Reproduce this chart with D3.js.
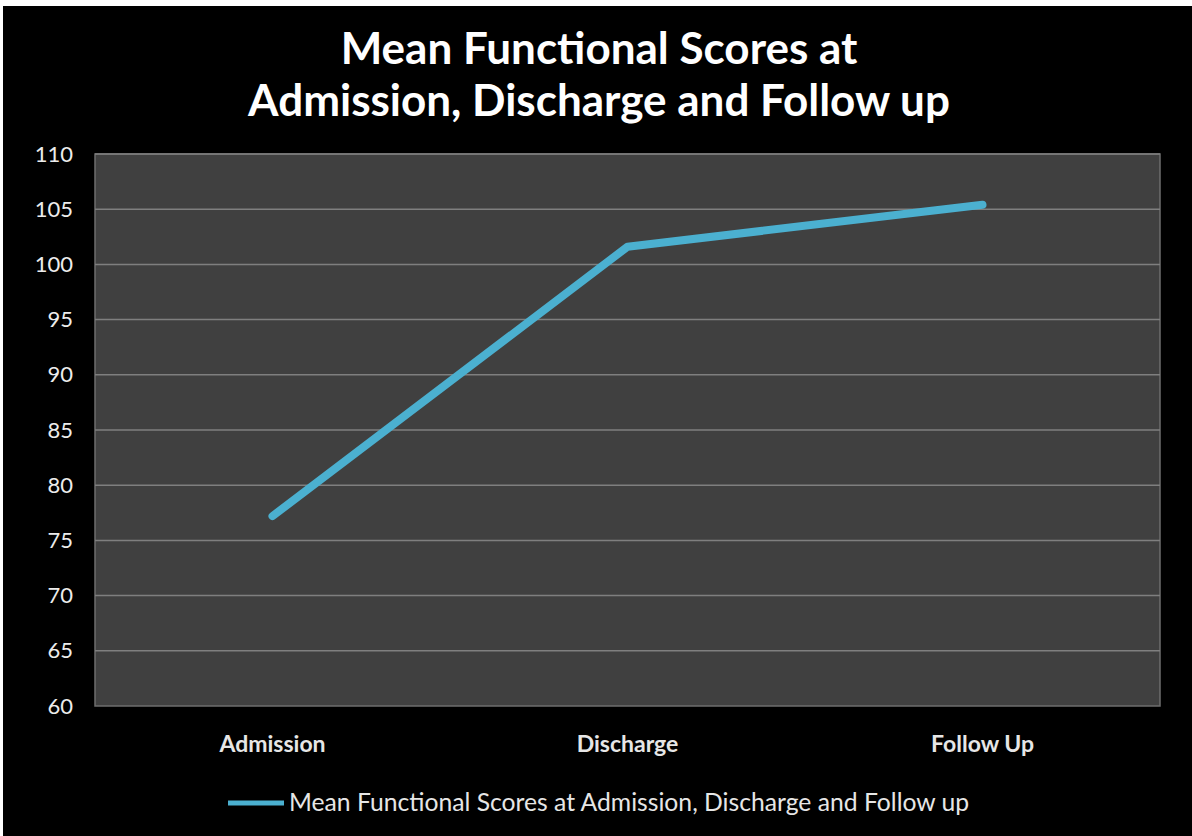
<!DOCTYPE html>
<html>
<head>
<meta charset="utf-8">
<script src="https://cdn.jsdelivr.net/npm/d3@7"></script>
<style>
  html, body { margin: 0; padding: 0; background: #fff; }
  text { font-family: Lato, "Open Sans", sans-serif; }
</style>
</head>
<body>
<script>
const categories = ["Admission", "Discharge", "Follow Up"];
const scores = [77.2, 101.6, 105.4];
const yTicks = [60, 65, 70, 75, 80, 85, 90, 95, 100, 105, 110];
const titleLines = ["Mean Functional Scores at", "Admission, Discharge and Follow up"];
const seriesName = "Mean Functional Scores at Admission, Discharge and Follow up";

const W = 1192, H = 836;
const plot = { left: 95, right: 1160, top: 154, bottom: 706 };

const svg = d3.select("body").append("svg")
  .attr("width", W).attr("height", H);

// black slide with thin white strip top/left like the screenshot
svg.append("rect").attr("width", W).attr("height", H).attr("fill", "#fff");
svg.append("rect").attr("x", 3).attr("y", 6).attr("width", W - 3).attr("height", H - 6).attr("fill", "#000");

const x = d3.scaleBand().domain(categories).range([plot.left, plot.right]);
const y = d3.scaleLinear().domain([60, 110]).range([plot.bottom, plot.top]);

// plot area
svg.append("rect")
  .attr("x", plot.left).attr("y", plot.top)
  .attr("width", plot.right - plot.left).attr("height", plot.bottom - plot.top)
  .attr("fill", "#404040")
  .attr("stroke", "#6e6e6e").attr("stroke-width", 1.5);

// gridlines
svg.append("g").selectAll("line")
  .data(yTicks.filter(d => d > 60))
  .enter().append("line")
  .attr("x1", plot.left).attr("x2", plot.right)
  .attr("y1", d => y(d)).attr("y2", d => y(d))
  .attr("stroke", "#7f7f7f").attr("stroke-width", 1.5);

// y axis labels
const yAxis = d3.axisLeft(y).tickValues(yTicks).tickSize(0).tickPadding(22);
const gy = svg.append("g").attr("transform", `translate(${plot.left},0)`).call(yAxis);
gy.select(".domain").remove();
gy.selectAll("text")
  .attr("fill", "#ececec").style("font-size", "22px")
  .style("font-family", "Lato, sans-serif");

// x axis labels
const xAxis = d3.axisBottom(x).tickSize(0).tickPadding(33);
const gx = svg.append("g").attr("transform", `translate(0,${plot.bottom})`).call(xAxis);
gx.select(".domain").remove();
gx.selectAll("text")
  .attr("fill", "#e6e6e6").style("font-size", "23px")
  .style("font-family", "Lato, sans-serif").style("font-weight", "bold")
  .attr("dy", "0.55em");

// series line
const line = d3.line()
  .x((d, i) => x(categories[i]) + x.bandwidth() / 2)
  .y(d => y(d));

svg.append("path")
  .datum(scores)
  .attr("d", line)
  .attr("fill", "none")
  .attr("stroke", "#4bb0d0")
  .attr("stroke-width", 8)
  .attr("stroke-linecap", "round")
  .attr("stroke-linejoin", "round");

// title
svg.append("g").selectAll("text")
  .data(titleLines)
  .enter().append("text")
  .attr("x", W / 2 + 3)
  .attr("y", (d, i) => 64 + i * 52)
  .attr("text-anchor", "middle")
  .attr("fill", "#fff")
  .style("font-size", "44px")
  .style("font-weight", "bold")
  .text(d => d);

// legend
const lg = svg.append("g");
lg.append("line")
  .attr("x1", 228).attr("x2", 284)
  .attr("y1", 803).attr("y2", 803)
  .attr("stroke", "#4bb0d0").attr("stroke-width", 5);
lg.append("text")
  .attr("x", 289).attr("y", 811)
  .attr("fill", "#e6e6e6")
  .style("font-size", "24.7px")
  .text(seriesName);
</script>
</body>
</html>
